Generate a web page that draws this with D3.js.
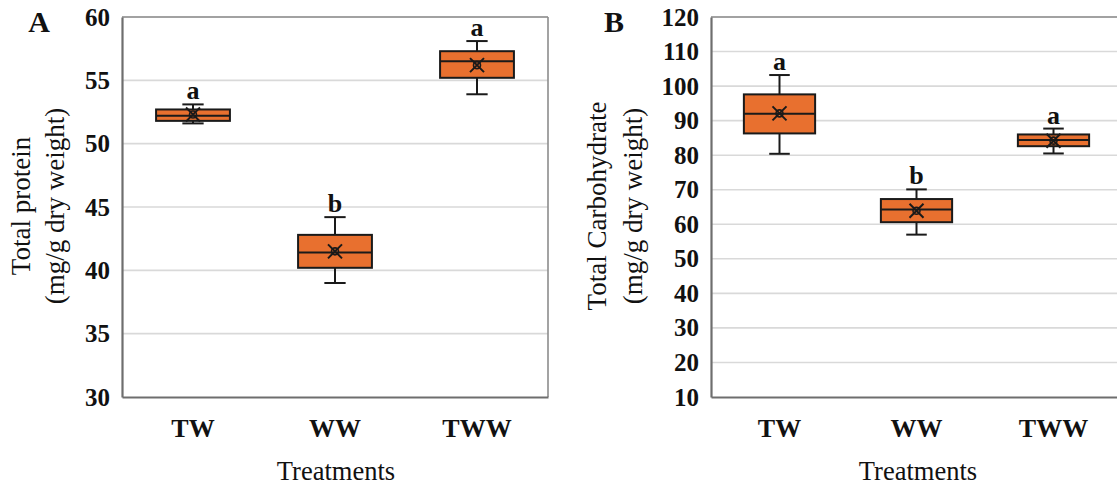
<!DOCTYPE html>
<html>
<head>
<meta charset="utf-8">
<script src="https://cdn.jsdelivr.net/npm/d3@7"></script>
<style>
  body { margin: 0; background: #fff; }
  svg text { font-family: "Times New Roman", "Liberation Serif", serif; fill: #111; }
</style>
</head>
<body>
<script>
// Data
const treatments = ["TW", "WW", "TWW"];

const proteinMin    = [51.6, 39.0, 53.9];
const proteinQ1     = [51.8, 40.2, 55.2];
const proteinMedian = [52.2, 41.4, 56.5];
const proteinQ3     = [52.7, 42.8, 57.3];
const proteinMax    = [53.1, 44.2, 58.1];
const proteinMean   = [52.3, 41.5, 56.2];
const proteinLetters = ["a", "b", "a"];
const proteinTicks  = [30, 35, 40, 45, 50, 55, 60];

const carbMin    = [80.4, 57.0, 80.5];
const carbQ1     = [86.3, 60.6, 82.6];
const carbMedian = [92.0, 64.3, 84.4];
const carbQ3     = [97.6, 67.3, 86.0];
const carbMax    = [103.2, 70.1, 87.7];
const carbMean   = [92.1, 63.9, 84.2];
const carbLetters = ["a", "b", "a"];
const carbTicks  = [10, 20, 30, 40, 50, 60, 70, 80, 90, 100, 110, 120];

const width = 1117;
const height = 488;
const boxFill = "#e8702f";
const ink = "#1a1a1a";

const svg = d3.select("body").append("svg")
    .attr("width", width)
    .attr("height", height);

svg.append("rect").attr("width", width).attr("height", height).attr("fill", "#fff");

function drawPanel(opt) {
    const { left, right, top, bottom, domain, ticks, label, titleLines, titleX } = opt;
    const g = svg.append("g");

    const x = d3.scaleBand().domain(treatments).range([left, right]);
    const y = d3.scaleLinear().domain(domain).range([bottom, top]);

    const rows = treatments.map((t, i) => ({
        t, min: opt.min[i], q1: opt.q1[i], med: opt.median[i],
        q3: opt.q3[i], max: opt.max[i], mean: opt.mean[i], letter: opt.letters[i]
    }));

    // GRID
    g.selectAll(".grid")
        .data(ticks.slice(1))
        .enter().append("line")
        .attr("x1", left).attr("x2", right)
        .attr("y1", d => y(d)).attr("y2", d => y(d))
        .attr("stroke", "#d9d9d9")
        .attr("stroke-width", 1.6);

    // FRAME (top + right)
    g.append("line").attr("x1", left).attr("x2", right).attr("y1", top).attr("y2", top)
        .attr("stroke", "#8c8c8c").attr("stroke-width", 1.6);
    g.append("line").attr("x1", right).attr("x2", right).attr("y1", top).attr("y2", bottom)
        .attr("stroke", "#8c8c8c").attr("stroke-width", 1.6);

    // AXES
    const yAxis = g.append("g")
        .attr("transform", `translate(${left},0)`)
        .call(d3.axisLeft(y).tickValues(ticks).tickSize(0).tickPadding(12));
    yAxis.select(".domain").attr("stroke", "#6e6e6e").attr("stroke-width", 2.2);
    yAxis.selectAll("text")
        .style("font-size", "25px").style("font-weight", "bold")
        .style("font-family", "'Times New Roman', 'Liberation Serif', serif");

    const xAxis = g.append("g")
        .attr("transform", `translate(0,${bottom})`)
        .call(d3.axisBottom(x).tickSize(0).tickPadding(22));
    xAxis.select(".domain").attr("stroke", "#6e6e6e").attr("stroke-width", 2.2);
    xAxis.selectAll("text")
        .style("font-size", "26px").style("font-weight", "bold")
        .style("font-family", "'Times New Roman', 'Liberation Serif', serif");

    // BOXES
    const bw = x.bandwidth() * 0.52;
    const cw = x.bandwidth() * 0.15;
    const box = g.selectAll(".box").data(rows).enter().append("g")
        .attr("transform", d => `translate(${x(d.t) + x.bandwidth() / 2},0)`);

    box.append("line")
        .attr("y1", d => y(d.max)).attr("y2", d => y(d.q3))
        .attr("stroke", ink).attr("stroke-width", 2);
    box.append("line")
        .attr("y1", d => y(d.q1)).attr("y2", d => y(d.min))
        .attr("stroke", ink).attr("stroke-width", 2);
    box.append("line")
        .attr("x1", -cw / 2).attr("x2", cw / 2)
        .attr("y1", d => y(d.max)).attr("y2", d => y(d.max))
        .attr("stroke", ink).attr("stroke-width", 2);
    box.append("line")
        .attr("x1", -cw / 2).attr("x2", cw / 2)
        .attr("y1", d => y(d.min)).attr("y2", d => y(d.min))
        .attr("stroke", ink).attr("stroke-width", 2);
    box.append("rect")
        .attr("x", -bw / 2).attr("width", bw)
        .attr("y", d => y(d.q3))
        .attr("height", d => y(d.q1) - y(d.q3))
        .attr("fill", boxFill)
        .attr("stroke", ink).attr("stroke-width", 2);
    box.append("line")
        .attr("x1", -bw / 2).attr("x2", bw / 2)
        .attr("y1", d => y(d.med)).attr("y2", d => y(d.med))
        .attr("stroke", ink).attr("stroke-width", 2);

    // mean marker
    const m = 7;
    box.append("path")
        .attr("d", d => {
            const cy = y(d.mean);
            return `M${-m},${cy - m}L${m},${cy + m}M${m},${cy - m}L${-m},${cy + m}`;
        })
        .attr("stroke", ink).attr("stroke-width", 2).attr("fill", "none");
    box.append("circle")
        .attr("cy", d => y(d.mean)).attr("r", 3.5)
        .attr("fill", "none").attr("stroke", ink).attr("stroke-width", 1.6);

    // letters
    box.append("text")
        .attr("y", d => y(d.max) - 5)
        .attr("text-anchor", "middle")
        .style("font-size", "26px").style("font-weight", "bold")
        .text(d => d.letter);

    // panel label
    g.append("text")
        .attr("x", opt.labelX).attr("y", 32)
        .attr("text-anchor", "middle")
        .style("font-size", "30px").style("font-weight", "bold")
        .text(label);

    // axis titles
    titleLines.forEach((line, i) => {
        g.append("text")
            .attr("transform", `translate(${titleX[i]},206) rotate(-90)`)
            .attr("text-anchor", "middle")
            .attr("dy", "0.35em")
            .style("font-size", "27px")
            .text(line);
    });

    g.append("text")
        .attr("x", opt.xTitleX)
        .attr("y", 480)
        .attr("text-anchor", "middle")
        .style("font-size", "26.5px")
        .text("Treatments");
}

drawPanel({
    left: 122, right: 548, top: 17, bottom: 397,
    domain: [30, 60], ticks: proteinTicks,
    min: proteinMin, q1: proteinQ1, median: proteinMedian, q3: proteinQ3,
    max: proteinMax, mean: proteinMean, letters: proteinLetters,
    label: "A", labelX: 39,
    titleLines: ["Total protein", "(mg/g dry weight)"], titleX: [21, 55],
    xTitleX: 336
});

drawPanel({
    left: 711, right: 1122, top: 17, bottom: 397,
    domain: [10, 120], ticks: carbTicks,
    min: carbMin, q1: carbQ1, median: carbMedian, q3: carbQ3,
    max: carbMax, mean: carbMean, letters: carbLetters,
    label: "B", labelX: 614,
    titleLines: ["Total Carbohydrate", "(mg/g dry weight)"], titleX: [597, 633],
    xTitleX: 918
});
</script>
</body>
</html>
